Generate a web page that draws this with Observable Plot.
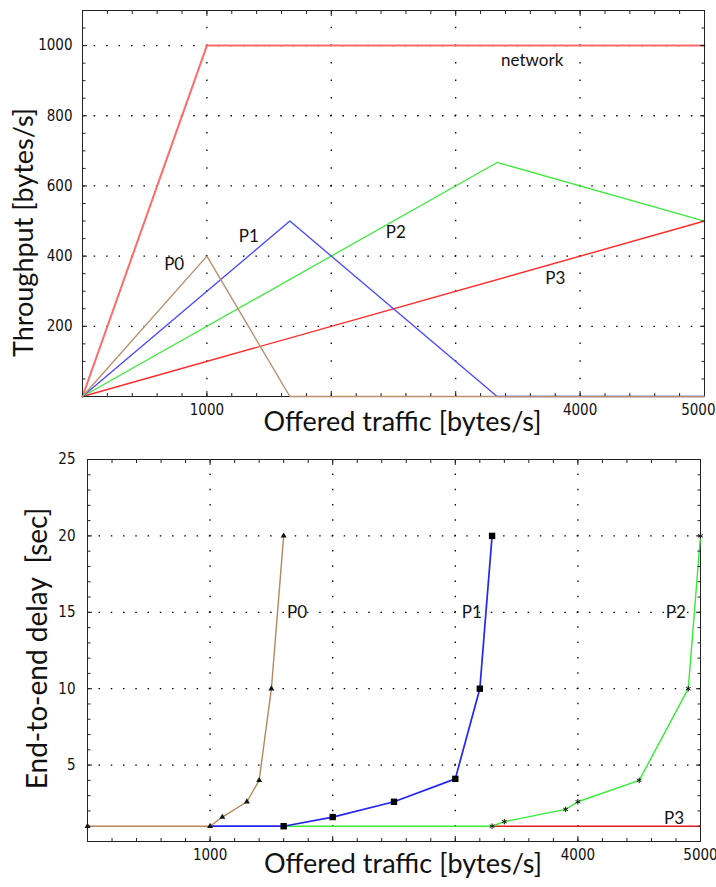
<!DOCTYPE html>
<html>
<head>
<meta charset="utf-8">
<script src="https://cdn.jsdelivr.net/npm/d3@7"></script>
<script src="https://cdn.jsdelivr.net/npm/@observablehq/plot@0.6"></script>
<style>
  body { margin: 0; background: #fff; }
  #charts svg { display: block; }
  #charts g[aria-label="x-axis tick label"],
  #charts g[aria-label="y-axis tick label"] {
    font-family: "Liberation Sans Narrow", "DejaVu Sans Condensed", "Liberation Serif", serif;
    font-size: 15px;
  }
</style>
</head>
<body>
<div id="charts"></div>
<script>
// ---- Throughput vs offered traffic (bytes/s) ----
const netOffered = [0, 1000, 5000];
const netThroughput = [0, 1000, 1000];
const p0Offered = [0, 1000, 1667, 5000];
const p0Throughput = [0, 400, 0, 0];
const p1Offered = [0, 1667, 3333, 5000];
const p1Throughput = [0, 500, 0, 0];
const p2Offered = [0, 3333, 5000];
const p2Throughput = [0, 667, 500];
const p3Offered = [0, 5000];
const p3Throughput = [0, 500];

// ---- End-to-end delay vs offered traffic ----
const p0DelayOffered = [0, 1000, 1100, 1300, 1400, 1500, 1600];
const p0Delay = [1, 1, 1.6, 2.6, 4, 10, 20];
const p1DelayOffered = [1000, 1600, 2000, 2500, 3000, 3200, 3300];
const p1Delay = [1, 1, 1.6, 2.6, 4.1, 10, 20];
const p2DelayOffered = [1600, 3300, 3400, 3900, 4000, 4500, 4900, 5000];
const p2Delay = [1, 1, 1.3, 2.1, 2.6, 4, 10, 20];
const p3DelayOffered = [3300, 5000];
const p3Delay = [1, 1];

// Curve labels, anchored in data coordinates
const thrLabels = ["network", "P0", "P1", "P2", "P3"];
const thrLabelX = [3615, 737, 1336, 2518, 3800];
const thrLabelY = [957, 376, 456, 467, 336];
const delayLabels = ["P0", "P1", "P2", "P3"];
const delayLabelX = [1710, 3134, 4798, 4785];
const delayLabelY = [15, 15, 15, 1.5];

// Axis tick values
const xTickLabels = [1000, 4000];
const xEdgeTickLabel = [5000];
const xGridValues = [1000, 2000, 3000, 4000];
const thrTickLabels = [200, 400, 600, 800, 1000];
const delayTickLabels = [5, 10, 15, 20, 25];

const zip = (xs, ys) => xs.map((x, i) => ({x, y: ys[i]}));
const labelData = (names, xs, ys) => names.map((t, i) => ({t, x: xs[i], y: ys[i]}));
const plain = d3.format("d");

const textFont = "Lato, 'Open Sans', sans-serif";

function frameTicks(xMinor, xMajor, yMinor, yMajor) {
  const blank = () => "";
  const common = {label: null, tickFormat: blank, stroke: "#222"};
  return [
    Plot.axisX(xMinor, {...common, anchor: "bottom", tickSize: -3}),
    Plot.axisX(xMinor, {...common, anchor: "top", tickSize: -3}),
    Plot.axisX(xMajor, {...common, anchor: "bottom", tickSize: -5}),
    Plot.axisX(xMajor, {...common, anchor: "top", tickSize: -5}),
    Plot.axisY(yMinor, {...common, anchor: "left", tickSize: -3.5}),
    Plot.axisY(yMinor, {...common, anchor: "right", tickSize: -3.5}),
    Plot.axisY(yMajor, {...common, anchor: "left", tickSize: -5}),
    Plot.axisY(yMajor, {...common, anchor: "right", tickSize: -5})
  ];
}

// Bottom tick labels; the last one is right-aligned at the page edge
function xLabels() {
  const opts = {anchor: "bottom", tickSize: 0, tickPadding: 8, label: null, tickFormat: plain, fill: "#111"};
  return [
    Plot.axisX(xTickLabels, opts),
    Plot.axisX(xEdgeTickLabel, {...opts, textAnchor: "end", dx: 11})
  ];
}

// Dotted grid: one dot per minor step along each grid line
function dottedGrid(xValues, yValues, dxPx, dyPx) {
  return [
    Plot.gridX(xValues, {stroke: "#000", strokeOpacity: 1, strokeWidth: 1.3,
      strokeDasharray: `1.5,${(dyPx - 1.5).toFixed(3)}`, strokeDashoffset: 0.75}),
    Plot.gridY(yValues, {stroke: "#000", strokeOpacity: 1, strokeWidth: 1.3,
      strokeDasharray: `1.5,${(dxPx - 1.5).toFixed(3)}`, strokeDashoffset: 0.75})
  ];
}

const titleStyle = {fontFamily: textFont, fill: "#111", textAnchor: "middle", lineAnchor: "middle"};

// ---------- Top chart ----------
const T = {w: 716, h: 440, l: 82, r: 12, t: 10, b: 44};
const tW = T.w - T.l - T.r, tH = T.h - T.t - T.b;
const topChart = Plot.plot({
  width: T.w, height: T.h,
  marginLeft: T.l, marginRight: T.r, marginTop: T.t, marginBottom: T.b,
  x: {domain: [0, 5000], axis: null},
  y: {domain: [0, 1100], axis: null},
  style: {background: "#fff", overflow: "visible"},
  marks: [
    ...dottedGrid(xGridValues, thrTickLabels, tW / 50, tH / 22),
    Plot.line(zip(netOffered, netThroughput), {x: "x", y: "y", stroke: "#ff6a6a", strokeWidth: 2}),
    Plot.line(zip(p3Offered, p3Throughput), {x: "x", y: "y", stroke: "#ff2a2a", strokeWidth: 1.4}),
    Plot.line(zip(p2Offered, p2Throughput), {x: "x", y: "y", stroke: "#3ee83e", strokeWidth: 1.3}),
    Plot.line(zip(p1Offered, p1Throughput), {x: "x", y: "y", stroke: "#4646ff", strokeWidth: 1.3}),
    Plot.frame({stroke: "#222"}),
    Plot.line(zip(p0Offered, p0Throughput), {x: "x", y: "y", stroke: "#b98f6c", strokeWidth: 1.4}),
    ...frameTicks(d3.range(200, 5000, 200), xGridValues, d3.range(50, 1100, 50), thrTickLabels),
    ...xLabels(),
    Plot.axisY(thrTickLabels, {anchor: "left", tickSize: 0, tickPadding: 10, label: null,
      tickFormat: plain, fill: "#111"}),
    Plot.text(labelData(thrLabels, thrLabelX, thrLabelY), {x: "x", y: "y", text: "t",
      fontSize: 17, fontFamily: textFont, fill: "#111"}),
    Plot.text(["Offered traffic [bytes/s]"], {...titleStyle, frameAnchor: "bottom", dx: 9, dy: 26,
      fontSize: 27}),
    Plot.text(["Throughput [bytes/s]"], {...titleStyle, frameAnchor: "left", rotate: -90,
      dx: -58, dy: 29, fontSize: 27})
  ]
});

// ---------- Bottom chart ----------
const B = {w: 716, h: 447, l: 87, r: 16, t: 19, b: 46};
const bW = B.w - B.l - B.r, bH = B.h - B.t - B.b;
const p0Pts = zip(p0DelayOffered, p0Delay);
const p1Pts = zip(p1DelayOffered, p1Delay);
const p2Pts = zip(p2DelayOffered, p2Delay);
const afterFirst = (d, i) => i > 0;
const bottomChart = Plot.plot({
  width: B.w, height: B.h,
  marginLeft: B.l, marginRight: B.r, marginTop: B.t, marginBottom: B.b,
  x: {domain: [0, 5000], axis: null},
  y: {domain: [0, 25], axis: null},
  style: {background: "#fff", overflow: "visible"},
  marks: [
    ...dottedGrid(xGridValues, [5, 10, 15, 20], bW / 50, bH / 25),
    Plot.frame({stroke: "#222"}),
    Plot.line(zip(p3DelayOffered, p3Delay), {x: "x", y: "y", stroke: "#e02020", strokeWidth: 1.4}),
    Plot.line(p2Pts, {x: "x", y: "y", stroke: "#34ee34", strokeWidth: 1.4}),
    Plot.line(p1Pts, {x: "x", y: "y", stroke: "#2424f4", strokeWidth: 1.7}),
    Plot.line(p0Pts, {x: "x", y: "y", stroke: "#b4875c", strokeWidth: 1.4}),
    Plot.dot(p2Pts, {x: "x", y: "y", filter: afterFirst, symbol: "asterisk", r: 2.6, stroke: "#111", strokeWidth: 1}),
    Plot.dot(p1Pts, {x: "x", y: "y", filter: afterFirst, symbol: "square", r: 3.6, fill: "#000", stroke: "none"}),
    Plot.dot(p0Pts, {x: "x", y: "y", symbol: "triangle", r: 2.2, fill: "#111", stroke: "none"}),
    ...frameTicks(d3.range(200, 5000, 200), xGridValues, d3.range(1, 25, 1), delayTickLabels),
    Plot.axisX([...xTickLabels, ...xEdgeTickLabel], {anchor: "bottom", tickSize: 0, tickPadding: 8,
      label: null, tickFormat: plain, fill: "#111"}),
    Plot.axisY(delayTickLabels, {anchor: "left", tickSize: 0, tickPadding: 12, label: null,
      tickFormat: plain, fill: "#111"}),
    Plot.text(labelData(delayLabels, delayLabelX, delayLabelY), {x: "x", y: "y", text: "t",
      fontSize: 17, fontFamily: textFont, fill: "#111"}),
    Plot.text(["Offered traffic [bytes/s]"], {...titleStyle, frameAnchor: "bottom", dx: 9, dy: 23,
      fontSize: 27}),
    Plot.text(["End-to-end delay\u00a0 [sec]"], {...titleStyle, frameAnchor: "left", rotate: -90,
      dx: -49, dy: -2, fontSize: 28})
  ]
});

const host = document.getElementById("charts");
host.append(topChart, bottomChart);
</script>
</body>
</html>
